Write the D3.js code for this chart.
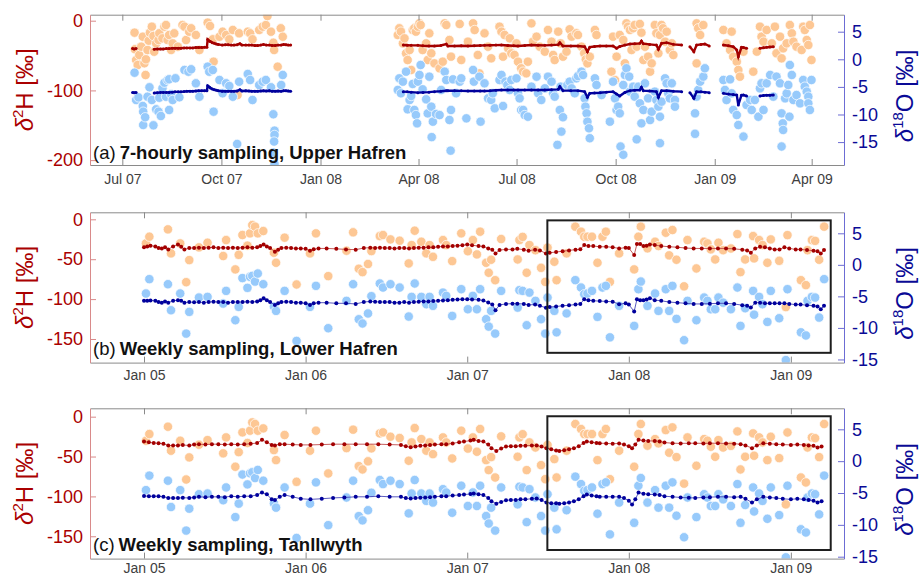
<!DOCTYPE html>
<html>
<head>
<meta charset="utf-8">
<script src="https://cdn.jsdelivr.net/npm/d3@7"></script>
<style>
  body { margin: 0; background: #fff; }
  svg { display: block; font-family: "Liberation Sans", Arial, Helvetica, sans-serif; }
</style>
</head>
<body>
<svg id="chart" width="919" height="577"></svg>
<script>
// ---- data (decimal years, per mil) ----
const upperTicks = ["2007-07-01","2007-10-01","2008-01-01","2008-04-01","2008-07-01","2008-10-01","2009-01-01","2009-04-01"];
const weeklyTicks = ["2005-01-01","2006-01-01","2007-01-01","2008-01-01","2009-01-01"];
const hTicksUpper = [0, -100, -200];
const hTicksWeekly = [0, -50, -100, -150];
const oTicks = [5, 0, -5, -10, -15];

// (a) rainfall d2H, 7-hourly
const upperRainH = [
  [2007.527,-17.2],[2007.528,-41],[2007.531,-56.4],[2007.535,-63.6],[2007.539,-49.2],[2007.544,-37.3],[2007.548,-23],
  [2007.552,-61.1],[2007.555,-77.9],[2007.556,-55.4],[2007.56,-42],[2007.563,-28.7],[2007.566,-17.2],[2007.571,-8.6],
  [2007.575,-22],[2007.577,-44.5],[2007.582,-32.5],[2007.588,-27.7],[2007.59,-18.1],[2007.598,-25.3],[2007.603,-8.6],
  [2007.607,-6.2],[2007.611,-27.7],[2007.615,-20.5],[2007.62,-42],[2007.624,-32.5],[2007.628,-18.1],[2007.637,-37.3],
  [2007.649,-6.2],[2007.654,-8.6],[2007.658,-27.7],[2007.666,-15.8],[2007.671,-10.9],[2007.683,-20.5],[2007.692,-42],
  [2007.713,-2.8],[2007.719,-7.6],[2007.726,-26.7],[2007.728,-58.8],[2007.743,-23],[2007.751,-15.8],[2007.76,-20.5],
  [2007.768,-26.7],[2007.777,-13.3],[2007.789,-106.6],[2007.793,-18.1],[2007.815,-15.8],[2007.821,-18.1],[2007.827,-26.7],
  [2007.844,-13.3],[2007.853,-8.6],[2007.861,-6.2],[2007.865,6.7],[2007.874,-15.8],[2007.88,-31.6],[2007.882,-42],
  [2007.891,-66],[2007.899,-10.9],[2007.904,-23],
  [2008.196,-20.5],[2008.2,-10.9],[2008.204,-15.7],[2008.209,-32.5],[2008.213,-25.3],[2008.217,-46.8],[2008.221,-56.4],
  [2008.226,-42],[2008.23,-70.7],[2008.234,-13.3],[2008.238,-10.9],[2008.242,-15.7],[2008.247,-8.6],[2008.251,-3.8],
  [2008.254,-6.2],[2008.259,-42],[2008.268,-32.5],[2008.272,-56.4],[2008.276,-18.1],[2008.281,-46.8],[2008.289,-61.2],
  [2008.302,-68.3],[2008.31,-58.8],[2008.315,-3.8],[2008.319,-6.2],[2008.327,-27.7],[2008.331,-51.6],[2008.353,-4.7],
  [2008.357,-56.4],[2008.374,-30.1],[2008.387,-3.8],[2008.391,-13.3],[2008.399,-49.2],[2008.403,-75.5],[2008.416,-18.1],
  [2008.425,-37.3],[2008.433,-54],[2008.454,-8.6],[2008.459,-15.7],[2008.463,-51.6],[2008.467,-20.5],[2008.476,-39.7],
  [2008.48,-25.3],[2008.484,-46.8],[2008.492,-49.2],[2008.497,-32.5],[2008.501,-58.8],[2008.509,-68.3],[2008.514,-73.1],
  [2008.522,-75.5],[2008.526,-58.8],[2008.535,-3.8],[2008.539,-30.1],[2008.548,-22.9],[2008.556,-37.3],[2008.569,-44.4],
  [2008.577,-13.3],[2008.586,-30.1],[2008.59,-49.2],[2008.594,-56.4],[2008.603,-15.7],[2008.609,-32.5],[2008.615,-51.6],
  [2008.624,-44.4],[2008.632,-12.4],[2008.637,-22.9],[2008.649,-18.1],[2008.653,-20.5],[2008.662,-37.3],[2008.669,-46.8],
  [2008.673,-55.4],[2008.677,-61.2],[2008.683,-51.6],[2008.696,-13.3],[2008.7,-20.5],
  [2008.738,-73.1],[2008.742,-22.9],[2008.747,-85.1],[2008.751,-51.6],[2008.759,-20.5],[2008.768,-27.7],[2008.772,-61.2],
  [2008.776,-3.8],[2008.78,-8.6],[2008.785,-13.3],[2008.789,-42],[2008.793,-10.9],[2008.797,-6.2],[2008.802,-37.3],
  [2008.81,-4.7],[2008.814,-17.2],[2008.819,-56.4],[2008.823,-37.3],[2008.831,-51.6],[2008.836,-73.1],[2008.84,-61.2],
  [2008.848,-6.2],[2008.852,-18.1],[2008.857,-46.8],[2008.861,-20.5],[2008.865,-6.2],[2008.869,-10.9],[2008.874,-30.1],
  [2008.878,-15.7],[2008.886,-42],[2008.891,-32.5],[2008.895,-49.2],[2008.954,-3.8],[2008.958,-10.9],[2008.963,-20.5],
  [2008.971,-6.2],[2008.954,-61.2],[2009.022,-13.3],[2009.03,-32.5],[2009.039,-42],[2009.043,-15.7],[2009.047,-51.6],
  [2009.056,-58.8],[2009.06,-70.7],[2009.064,-80.3],[2009.073,-44.4],[2009.098,-73.1],[2009.107,-44.4],[2009.115,-8.6],
  [2009.119,-22.9],[2009.124,-30.1],[2009.132,-13.3],[2009.145,-32.5],[2009.153,-8.6],[2009.157,-46.8],[2009.166,-22.9],
  [2009.17,-54],[2009.174,-39.7],[2009.183,-32.5],[2009.191,-6.2],[2009.196,-18.1],[2009.2,-30.1],[2009.208,-37.3],
  [2009.221,-42],[2009.225,-8.6],[2009.229,-13.3],[2009.234,-27.7],[2009.238,-34.9],[2009.242,-6.2],[2009.246,-56.4]
];

// (a) rainfall d18O, 7-hourly
const upperRainO = [
  [2007.527,-2.43],[2007.531,-7.37],[2007.537,-6.9],[2007.548,-8.46],[2007.549,-9.49],[2007.549,-11.9],[2007.554,-10.5],
  [2007.56,-6.78],[2007.565,-5.07],[2007.571,-7.37],[2007.575,-11.96],[2007.582,-9.06],[2007.588,-9.49],[2007.59,-6.96],
  [2007.594,-10.27],[2007.598,-5.25],[2007.603,-4.24],[2007.607,-6.78],[2007.611,-3.75],[2007.615,-3.62],[2007.615,-9.18],
  [2007.62,-6.34],[2007.624,-7.37],[2007.631,-3.44],[2007.641,-6.88],[2007.654,-1.94],[2007.664,-2.25],[2007.671,-1.81],
  [2007.683,-4.35],[2007.692,-6.78],[2007.713,-1.34],[2007.717,-2.25],[2007.726,-1.94],[2007.728,-9.49],[2007.743,-3.75],
  [2007.751,-6.16],[2007.76,-4.35],[2007.768,-4.84],[2007.777,-6.78],[2007.788,-15.34],[2007.793,-4.06],[2007.815,-2.66],
  [2007.821,-3.75],[2007.827,-7.37],[2007.844,-4.66],[2007.853,-4.06],[2007.861,-3.75],[2007.874,-5.07],[2007.88,-9.96],
  [2007.883,-12.93],[2007.883,-13.7],[2007.882,-14.9],[2007.88,-16.9],[2007.883,-19.0],[2007.9,-4.66],[2007.904,-2.84],
  [2008.196,-5.56],[2008.2,-3.45],[2008.204,-6.16],[2008.209,-4.05],[2008.217,-2.24],[2008.221,-9.06],[2008.226,-7.37],
  [2008.23,-6.65],[2008.234,-4.47],[2008.238,-9.18],[2008.242,-10.1],[2008.245,-11.6],[2008.247,-4.05],[2008.251,-2.84],
  [2008.254,-1.03],[2008.259,-5.44],[2008.268,-7.25],[2008.272,-9.8],[2008.276,-3.15],[2008.281,-8.58],[2008.282,-14.1],
  [2008.285,-11.3],[2008.293,-9.9],[2008.302,-10.1],[2008.306,-5.56],[2008.315,-2.24],[2008.319,-3.75],[2008.327,-11.0],
  [2008.33,-16.55],[2008.331,-9.18],[2008.336,-3.63],[2008.344,-6.16],[2008.353,-4.05],[2008.357,-3.45],[2008.37,-10.7],
  [2008.387,-1.93],[2008.389,-4.05],[2008.403,-3.15],[2008.406,-11.3],[2008.416,-4.35],[2008.425,-7.07],[2008.433,-7.37],
  [2008.437,-6.16],[2008.442,-8.88],[2008.454,-3.75],[2008.459,-2.84],[2008.463,-8.46],[2008.469,-4.05],[2008.474,-4.65],
  [2008.48,-5.56],[2008.484,-3.75],[2008.497,-3.45],[2008.501,-6.16],[2008.505,-7.07],[2008.509,-9.18],[2008.514,-9.18],
  [2008.518,-10.1],[2008.526,-10.4],[2008.535,-4.96],[2008.548,-3.15],[2008.552,-6.16],[2008.56,-7.37],[2008.569,-5.26],
  [2008.577,-3.15],[2008.586,-4.05],[2008.59,-6.16],[2008.594,-6.77],[2008.601,-15.5],[2008.607,-9.18],[2008.609,-4.96],
  [2008.611,-13.1],[2008.615,-10.5],[2008.626,-4.65],[2008.632,-4.05],[2008.637,-5.26],[2008.645,-6.16],[2008.649,-3.45],
  [2008.653,-3.03],[2008.662,-2.24],[2008.666,-2.84],[2008.67,-7.07],[2008.672,-8.58],[2008.675,-9.79],[2008.677,-11.3],
  [2008.681,-12.5],[2008.683,-14.3],[2008.696,-3.45],[2008.7,-4.65],
  [2008.713,-6.47],[2008.734,-11.3],[2008.742,-4.05],[2008.747,-7.07],[2008.751,-9.18],[2008.755,-8.58],[2008.759,-9.79],
  [2008.761,-15.8],[2008.768,-17.3],[2008.768,-4.65],[2008.772,-2.84],[2008.776,-1.63],[2008.783,-3.14],[2008.785,-5.86],
  [2008.793,-4.96],[2008.797,-6.77],[2008.802,-14.5],[2008.806,-4.96],[2008.81,-7.98],[2008.814,-11.6],[2008.819,-9.18],
  [2008.823,-4.35],[2008.831,-7.07],[2008.836,-11.0],[2008.84,-9.49],[2008.848,-5.86],[2008.852,-7.37],[2008.857,-8.58],
  [2008.861,-10.4],[2008.861,-15.2],[2008.865,-7.68],[2008.874,-3.45],[2008.878,-4.35],[2008.882,-6.17],[2008.886,-7.07],
  [2008.891,-4.35],[2008.899,-7.37],[2008.899,-8.58],[2008.95,-9.79],[2008.95,-13.5],[2008.954,-6.77],[2008.958,-5.56],
  [2008.963,-4.05],[2008.971,-3.14],[2008.975,-1.63],[2009.022,-3.75],[2009.026,-5.56],[2009.03,-7.37],[2009.039,-3.63],
  [2009.043,-6.17],[2009.047,-9.18],[2009.056,-10.1],[2009.06,-11.9],[2009.073,-14.0],[2009.081,-8.28],[2009.09,-7.37],
  [2009.094,-9.18],[2009.102,-7.37],[2009.111,-10.4],[2009.115,-5.26],[2009.119,-4.35],[2009.124,-9.18],[2009.132,-4.35],
  [2009.141,-2.84],[2009.149,-6.77],[2009.157,-3.14],[2009.166,-4.35],[2009.17,-9.79],[2009.17,-15.8],[2009.173,-11.6],
  [2009.174,-12.8],[2009.179,-7.07],[2009.183,-6.17],[2009.187,-4.65],[2009.19,-10.4],[2009.191,-1.03],[2009.196,-2.84],
  [2009.2,-7.37],[2009.208,-6.47],[2009.217,-7.98],[2009.225,-3.75],[2009.229,-4.96],[2009.234,-5.86],[2009.238,-6.77],
  [2009.238,-7.98],[2009.242,-9.18],[2009.246,-3.75]
];

// (a) stream water, 7-hourly: [year, d2H, d18O]; null = gap in record
const upperStream = [
  [2007.522,-40,-6.0],[2007.526,-40.5,-6.05],[2007.531,-40,-6.0], null,
  [2007.577,-41,-6.1],[2007.585,-40.5,-6.05],[2007.593,-40.5,-6.0],[2007.6,-40.5,-6.0],[2007.608,-40,-6.0],
  [2007.615,-40,-6.0],[2007.623,-39.5,-5.95],[2007.63,-39.5,-5.9],[2007.638,-39.5,-5.9],[2007.645,-39.5,-5.9],
  [2007.653,-39,-5.85],[2007.66,-39,-5.8],[2007.668,-39,-5.8],[2007.675,-39,-5.8],[2007.683,-38.5,-5.75],
  [2007.69,-38.5,-5.7],[2007.698,-38.5,-5.7],[2007.705,-38.2,-5.7],[2007.711,-38,-5.7],[2007.713,-27,-4.8],
  [2007.717,-29,-5.0],[2007.72,-30,-5.2],[2007.725,-31.5,-5.4],[2007.73,-32.5,-5.5],[2007.735,-33.5,-5.6],
  [2007.74,-34,-5.7],[2007.75,-35,-5.8],[2007.758,-34.5,-5.8],[2007.765,-34.5,-5.8],[2007.773,-35,-5.8],
  [2007.78,-35,-5.8],[2007.788,-34.5,-5.75],[2007.795,-33,-5.5],[2007.8,-35,-5.75],[2007.81,-35,-5.7],
  [2007.818,-35,-5.75],[2007.825,-35,-5.8],[2007.833,-35.5,-5.8],[2007.84,-35.5,-5.8],[2007.848,-35,-5.75],
  [2007.855,-34,-5.7],[2007.862,-35,-5.75],[2007.87,-35,-5.7],[2007.877,-35.5,-5.8],[2007.885,-35.5,-5.8],
  [2007.892,-35,-5.75],[2007.9,-35,-5.8],[2007.906,-34,-5.7],[2007.912,-34.5,-5.7],[2007.918,-35,-5.75],
  [2007.924,-35,-5.8], null,
  [2008.21,-34.9,-5.86],[2008.22,-35.2,-5.9],[2008.23,-35.4,-5.95],[2008.247,-35.4,-6.04],[2008.26,-36,-6.0],
  [2008.275,-36.3,-5.95],[2008.289,-36.3,-5.86],[2008.305,-35.5,-5.8],[2008.319,-33.5,-5.7],[2008.323,-36.3,-5.68],
  [2008.34,-36.3,-5.7],[2008.357,-36,-5.72],[2008.374,-36.3,-5.74],[2008.39,-36,-5.74],[2008.405,-35.6,-5.74],
  [2008.416,-35.4,-5.74],[2008.43,-35.2,-5.7],[2008.445,-35,-5.62],[2008.459,-34.9,-5.56],[2008.475,-35.5,-5.56],
  [2008.49,-36,-5.56],[2008.501,-36.3,-5.56],[2008.518,-35.5,-5.56],[2008.535,-34.9,-5.56],[2008.552,-35.2,-5.56],
  [2008.569,-35.4,-5.56],[2008.586,-35,-5.5],[2008.603,-34.4,-5.44],[2008.607,-31.5,-4.95],[2008.615,-36.3,-5.68],
  [2008.635,-36.3,-5.68],[2008.653,-36.3,-5.68],[2008.67,-37.3,-5.86],[2008.677,-44.4,-6.89],[2008.683,-38,-6.17],
  [2008.695,-37,-6.1],[2008.709,-36.3,-6.05],[2008.725,-36.3,-5.95],[2008.742,-36.3,-5.86],[2008.751,-39.7,-6.3],
  [2008.759,-37,-6.65],[2008.772,-35,-6.0],[2008.785,-33.4,-5.68],[2008.797,-33,-5.6],[2008.81,-32.5,-5.56],
  [2008.814,-29.1,-5.07],[2008.819,-33,-5.68],[2008.835,-34,-5.75],[2008.852,-34.9,-5.86],[2008.857,-41.1,-6.89],
  [2008.865,-32.5,-5.7],[2008.878,-31.5,-5.68],[2008.895,-33.9,-5.8],[2008.916,-34.9,-5.86], null,
  [2008.937,-37.3,-6.04],[2008.947,-44.4,-7.07],[2008.954,-34.9,-5.86],[2008.965,-34,-5.9],[2008.975,-33.4,-5.95],
  [2008.986,-36.3,-6.04], null,
  [2009.022,-34.9,-6.17],[2009.035,-36,-6.3],[2009.047,-37.3,-6.4],[2009.056,-42,-6.47],[2009.06,-51.6,-8.28],
  [2009.068,-38.2,-6.5],[2009.073,-38.5,-6.47],[2009.081,-39.7,-6.65], null,
  [2009.115,-39.7,-6.65],[2009.124,-38.8,-6.55],[2009.132,-38.2,-6.5],[2009.14,-37.8,-6.5],[2009.149,-37.3,-6.47]
];

// (b), (c) weekly rainfall: [year, d18O, d2H]
const weeklyRain = [
  [2005.012,-4.55,-30.2],[2005.033,-2.27,-21.8],[2005.148,-3.07,-12.6],[2005.167,-7.2,-42.7],[2005.224,-4.55,-30.2],
  [2005.261,-10.9,-78.8],[2005.28,-7.46,-51.1],[2005.34,-5.19,-35.2],[2005.393,-5.08,-29.4],[2005.49,-6.14,-46],
  [2005.508,-4.13,-26],[2005.565,-8.78,-62.8],[2005.586,-6.67,-44.5],[2005.609,-2.1,-19.7],[2005.64,-3.65,-33],
  [2005.656,-1.9,-17.6],[2005.67,-1.75,-7.2],[2005.687,-2.65,-9.2],[2005.704,-1.38,-17.6],[2005.738,-3.07,-14.7],
  [2005.804,-6.62,-41.9],[2005.817,-7.3,-54.5],[2005.87,-4.13,-23],[2005.944,-12.06,-81.7],[2006.027,-6.67,-42.7],
  [2006.064,-3.33,-17.6],[2006.14,-10.05,-71.2],[2006.253,-5.71,-39.4],[2006.294,-3.07,-16.3],[2006.329,-8.63,-62],
  [2006.352,-9.3,-66.2],[2006.386,-7.71,-56],[2006.407,-4.97,-39.8],[2006.459,-2.96,-21],[2006.479,-3.6,-19.7],
  [2006.525,-3.07,-25.2],[2006.582,-3.6,-26.8],[2006.638,-8.2,-55.3],[2006.656,-5.08,-32.3],[2006.675,-2.96,-14.3],
  [2006.716,-5.08,-28.1],[2006.747,-6.24,-42.7],[2006.767,-5.08,-32.3],[2006.788,-6.5,-47],
  [2006.85,-4.4,-26],[2006.87,-4.92,-32.3],[2006.907,-8.1,-52.4],[2006.963,-3.86,-17.6],[2007.004,-7.04,-40],
  [2007.035,-4.92,-26],[2007.06,-7.04,-44],[2007.08,-3.86,-15.5],[2007.117,-8.62,-54.5],[2007.133,-9.79,-67],
  [2007.148,-7.3,-50.7],[2007.173,-10.9,-76.3],[2007.21,-4.13,-24.7],[2007.312,-6.78,-50.3],[2007.323,-4.02,-26],
  [2007.343,-4.13,-22],[2007.368,-9.58,-67],[2007.385,-4.4,-32.3],[2007.422,-5.71,-38.7],[2007.457,-8.62,-60.8],
  [2007.483,-10.9,-78.4],[2007.497,-5.19,-35.5],[2007.539,-7.3,-53.2],[2007.553,-10.7,-76.3],[2007.615,-7.7,-42.7],
  [2007.669,-2.43,-9.2],[2007.704,-3.6,-15.5],[2007.724,-4.66,-21.8],[2007.744,-4.55,-21.8],[2007.772,-4.13,-21.8],
  [2007.806,-8.25,-54.5],[2007.837,-3.6,-21.8],[2007.858,-3.33,-15.5],[2007.883,-11.5,-78.4],[2007.94,-6.5,-42.7],
  [2008.033,-9.68,-62.8],[2008.059,-3.86,-21.8],[2008.074,-2.65,-9.2],[2008.115,-6.5,-36.4],[2008.162,-4.55,-28.1],
  [2008.183,-7.3,-33.5],[2008.228,-3.86,-16.8],[2008.249,-7.3,-45.2],[2008.269,-3.33,-13.4],[2008.294,-8.57,-50.7],
  [2008.341,-11.95,-84],[2008.362,-5.71,-26],[2008.417,-8.78,-61.6],[2008.465,-5.19,-28.1],[2008.485,-5.71,-30.2],
  [2008.506,-7.04,-37.7],[2008.533,-7.04,-50.3],[2008.553,-5.19,-29.4],[2008.582,-6,-38.7],[2008.63,-7.04,-36.6],
  [2008.67,-3.6,-18.5],[2008.689,-9.68,-66.2],[2008.718,-6.88,-50.3],[2008.767,-4.13,-21],[2008.773,-7.9,-49],
  [2008.804,-5.08,-26],[2008.825,-6.24,-32.3],[2008.855,-9.05,-54.5],[2008.876,-4.13,-25.2],[2008.928,-8.47,-52],
  [2008.969,-15.1,-110],[2008.979,-3.86,-19.8],[2009.062,-10.7,-76.3],[2009.093,-11.2,-82.5],[2009.103,-5.71,-38.7],
  [2009.13,-5.08,-26],[2009.15,-5.19,-27],[2009.175,-8.36,-50.7],[2009.206,-2.27,-9.2]
];

// (b) Lower Hafren stream, weekly: [year, d2H, d18O]
const lowerStream = [
  [2005.0,-35,-5.7],[2005.02,-34,-5.7],[2005.04,-33,-5.65],[2005.07,-34,-5.7],[2005.09,-36,-5.9],[2005.11,-36.5,-6.0],
  [2005.13,-35,-5.8],[2005.15,-37.7,-6.0],[2005.18,-34,-5.7],[2005.21,-31.5,-5.6],[2005.23,-34.4,-5.7],[2005.25,-37.7,-6.0],
  [2005.28,-36,-5.9],[2005.31,-36,-5.95],[2005.34,-35.5,-5.9],[2005.37,-36,-6.0],[2005.4,-35.5,-5.9],[2005.43,-35,-5.85],
  [2005.46,-36,-5.9],[2005.49,-35.5,-5.9],[2005.52,-36,-6.0],[2005.55,-35.5,-5.9],[2005.58,-36,-5.9],[2005.61,-35.5,-5.9],
  [2005.64,-35,-5.85],[2005.67,-35.5,-5.9],[2005.7,-35,-5.8],[2005.72,-33.5,-5.6],[2005.74,-31.5,-5.3],[2005.76,-34,-5.6],
  [2005.78,-36,-5.9],[2005.81,-40.6,-6.35],[2005.83,-38,-6.1],[2005.85,-36,-5.9],[2005.88,-35.5,-5.85],[2005.91,-36,-5.9],
  [2005.94,-36.5,-6.0],[2005.97,-36.5,-6.0],[2006.0,-37,-6.1],[2006.027,-39.4,-6.35],[2006.05,-37.5,-6.1],[2006.08,-36.5,-6.0],
  [2006.13,-36.5,-6.0],[2006.19,-37,-6.1],[2006.25,-37.7,-6.1],[2006.31,-38,-6.2],[2006.36,-36,-5.9],[2006.4,-35.5,-5.8],
  [2006.43,-36,-5.85],[2006.46,-35.5,-5.9],[2006.49,-36,-5.9],[2006.52,-36,-5.9],[2006.55,-36.5,-6.0],[2006.58,-36,-6.0],
  [2006.61,-36,-5.9],[2006.64,-36.5,-6.0],[2006.67,-36,-5.9],[2006.7,-35.5,-5.85],[2006.73,-35.5,-5.8],[2006.76,-35,-5.8],
  [2006.79,-35,-5.75],[2006.82,-34.5,-5.7],[2006.85,-34,-5.65],[2006.88,-34,-5.6],[2006.91,-33.5,-5.55],[2006.94,-33,-5.5],
  [2006.97,-32.5,-5.45],[2007.0,-31.5,-5.45],[2007.03,-32.5,-5.5],[2007.07,-33.5,-5.55],[2007.1,-34,-5.65],[2007.13,-36.5,-5.98],
  [2007.155,-38,-6.3],[2007.175,-42.8,-7.2],[2007.2,-38.6,-6.35],[2007.24,-37.7,-6.2],[2007.28,-37.7,-6.15],[2007.31,-37,-6.15],
  [2007.35,-38,-6.2],[2007.38,-39.4,-6.35],[2007.42,-38,-6.3],[2007.45,-39,-6.5],[2007.487,-42.8,-6.8],[2007.51,-41.9,-6.7],
  [2007.55,-41,-6.6],[2007.59,-40,-6.5],[2007.63,-39,-6.4],[2007.67,-38,-6.3],[2007.7,-37.5,-6.2],[2007.724,-32.3,-5.45],
  [2007.75,-33.5,-5.6],[2007.78,-33.5,-5.7],[2007.82,-34.4,-5.75],[2007.86,-34.4,-5.8],[2007.9,-35,-5.85],[2007.94,-36.5,-6.24],
  [2007.98,-35.5,-6.1],[2008.0,-36,-6.3],[2008.033,-44.8,-7.4],[2008.05,-31,-5.45],[2008.07,-31,-5.6],[2008.09,-33.5,-5.6],
  [2008.11,-33,-5.5],[2008.13,-31.5,-5.29],[2008.16,-32.3,-5.6],[2008.2,-33.5,-5.7],[2008.25,-34.4,-5.9],[2008.3,-35,-6.0],
  [2008.35,-36,-6.1],[2008.4,-36.5,-6.2],[2008.45,-36.5,-6.2],[2008.5,-36.5,-6.15],[2008.55,-36.5,-6.1],[2008.6,-36.5,-6.1],
  [2008.65,-37,-6.2],[2008.7,-38,-6.4],[2008.73,-39,-6.5],[2008.753,-41.9,-6.77],[2008.78,-36.5,-6.0],[2008.81,-34.4,-6.0],
  [2008.84,-35,-6.1],[2008.87,-36.5,-6.1],[2008.9,-37.7,-6.1],[2008.93,-37.7,-6.1],[2008.96,-35,-6.1],[2008.99,-36.5,-6.2],
  [2009.03,-37.7,-6.3],[2009.06,-37.7,-6.3],[2009.1,-38.5,-6.4],[2009.14,-39.4,-6.5],[2009.165,-40,-6.6],[2009.185,-42.8,-7.04],
  [2009.205,-38.6,-6.5]
];

// (c) Tanllwyth stream, weekly: [year, d2H, d18O]
const tanllwythStream = [
  [2005.0,-31.2,-5.46],[2005.03,-32,-5.5],[2005.06,-33,-5.5],[2005.09,-33.3,-5.5],[2005.12,-34,-5.6],[2005.15,-36,-5.77],
  [2005.18,-36.2,-5.8],[2005.21,-36,-5.8],[2005.24,-35.5,-5.75],[2005.28,-36.2,-5.77],[2005.31,-35,-5.7],[2005.34,-34.5,-5.6],
  [2005.38,-35,-5.65],[2005.42,-34.5,-5.6],[2005.46,-34.5,-5.6],[2005.5,-35,-5.65],[2005.54,-34.5,-5.5],[2005.58,-35,-5.6],
  [2005.62,-34.5,-5.5],[2005.66,-34,-5.5],[2005.7,-33,-5.3],[2005.73,-29.1,-4.93],[2005.76,-32,-5.2],[2005.79,-35.4,-6.0],
  [2005.81,-36,-6.1],[2005.84,-34.5,-5.6],[2005.87,-34.5,-5.3],[2005.92,-35,-5.6],[2005.97,-35.4,-5.9],[2006.03,-35.4,-6.0],
  [2006.1,-35,-5.9],[2006.17,-34.5,-5.77],[2006.24,-34.5,-5.7],[2006.31,-34.5,-5.6],[2006.38,-34.5,-5.6],[2006.45,-34.5,-5.5],
  [2006.52,-35,-5.6],[2006.59,-35.4,-5.6],[2006.62,-37,-5.8],[2006.65,-38.3,-5.88],[2006.68,-37.5,-5.8],[2006.71,-36.6,-5.75],
  [2006.74,-36,-5.7],[2006.77,-35.5,-5.65],[2006.8,-35,-5.6],[2006.84,-34.5,-5.5],[2006.87,-34.5,-5.5],[2006.91,-33.5,-5.4],
  [2006.95,-32,-5.3],[2006.98,-31.2,-5.25],[2007.02,-30,-5.15],[2007.04,-29.1,-5.09],[2007.07,-30.5,-5.2],[2007.1,-31.2,-5.3],
  [2007.13,-35,-5.8],[2007.15,-39.5,-6.3],[2007.18,-42.9,-6.67],[2007.21,-40,-6.4],[2007.24,-37.5,-6.14],[2007.27,-37,-6.1],
  [2007.3,-37,-6.1],[2007.33,-36.5,-6.0],[2007.36,-36.5,-6.0],[2007.4,-36,-5.9],[2007.43,-36.2,-5.88],[2007.46,-37.5,-6.1],
  [2007.49,-39.5,-6.5],[2007.52,-41,-6.6],[2007.55,-42.5,-6.6],[2007.57,-42.9,-6.67],[2007.6,-42,-6.6],[2007.63,-41,-6.5],
  [2007.66,-39.5,-6.3],[2007.69,-37,-6.0],[2007.72,-33,-5.5],[2007.74,-31.2,-5.25],[2007.77,-32,-5.4],[2007.8,-33,-5.5],
  [2007.82,-33.3,-5.6],[2007.86,-33.5,-5.6],[2007.9,-34,-5.6],[2007.94,-33.5,-5.6],[2007.97,-35,-5.8],[2008.0,-37,-6.2],
  [2008.02,-39.5,-6.82],[2008.04,-35,-6.0],[2008.06,-29.1,-4.93],[2008.09,-30,-5.1],[2008.12,-30.5,-5.2],[2008.16,-30.4,-5.25],
  [2008.19,-31,-5.3],[2008.22,-32.5,-5.5],[2008.27,-33.3,-5.6],[2008.32,-33.5,-5.7],[2008.37,-33.3,-5.75],[2008.41,-33.3,-5.77],
  [2008.46,-33.5,-5.7],[2008.5,-33.3,-5.65],[2008.55,-33.3,-5.6],[2008.6,-33.5,-5.6],[2008.65,-34,-5.65],[2008.69,-34.5,-5.6],
  [2008.72,-36,-5.9],[2008.76,-39.5,-6.5],[2008.79,-36,-6.0],[2008.83,-33.3,-5.6],[2008.87,-34,-5.7],[2008.91,-34.5,-5.8],
  [2008.95,-35,-5.9],[2009.0,-35.4,-6.0],[2009.04,-35,-5.9],[2009.08,-35.5,-6.0],[2009.11,-36.2,-6.1],[2009.14,-36.5,-6.2],
  [2009.165,-38.7,-6.5],[2009.19,-37.5,-6.3]
];

// ---- layout / style ----
const svg = d3.select("#chart");
const L = 90, R = 844, PH = 150.3;
const C = {
  hRain: "#fdc794", oRain: "#97cafb",
  hStream: "#a30000", oStream: "#00009c",
  hThin: "#c04a4a", oThin: "#4646b8",
  hText: "#aa0000", oText: "#0a0a96",
  hAxis: "#d98a8a", oAxis: "#6c6cd4",
  box: "#8a8a8a", tick: "#404040"
};
const parseDay = d3.utcParse("%Y-%m-%d");
const toDate = y => {
  const yr = Math.floor(y), a = Date.UTC(yr, 0, 1), b = Date.UTC(yr + 1, 0, 1);
  return new Date(a + (y - yr) * (b - a));
};

const panels = [
  { key: "a", top: 14.7, xDomain: ["2007-06-01", "2009-05-01"], ticks: upperTicks,
    hDomain: [-207, 8.6], oDomain: [-19.15, 8.08], hTicks: hTicksUpper,
    rainH: upperRainH, rainO: upperRainO, stream: upperStream, dense: true,
    tag: "(a)", title: "7-hourly sampling, Upper Hafren", labelUp: 6, xPad: 9 },
  { key: "b", top: 212.3, xDomain: ["2004-09-01", "2009-05-01"], ticks: weeklyTicks,
    hDomain: [-179.6, 8.8], oDomain: [-15.5, 8.33], hTicks: hTicksWeekly,
    rainH: weeklyRain.map(d => [d[0], d[2]]), rainO: weeklyRain.map(d => [d[0], d[1]]),
    stream: lowerStream, dense: false, box: true,
    tag: "(b)", title: "Weekly sampling, Lower Hafren", labelUp: 8, xPad: 7 },
  { key: "c", top: 408.3, xDomain: ["2004-09-01", "2009-05-01"], ticks: weeklyTicks,
    hDomain: [-178, 10.5], oDomain: [-15.3, 8.3], hTicks: hTicksWeekly,
    rainH: weeklyRain.map(d => [d[0], d[2]]), rainO: weeklyRain.map(d => [d[0], d[1]]),
    stream: tanllwythStream, dense: false, box: true,
    tag: "(c)", title: "Weekly sampling, Tanllwyth", labelUp: 7.5, xPad: 4 }
];
const zoomBox = { from: "2007-07-01", to: "2009-04-01", oLow: -13.95, oHigh: 7.05 };

function styleAxis(sel, lineColor, textColor, size) {
  sel.attr("font-family", null).attr("font-size", size);
  sel.select(".domain").attr("stroke", lineColor);
  sel.selectAll(".tick line").attr("stroke", lineColor);
  sel.selectAll(".tick text").attr("fill", textColor);
}

function axisTitle(g, x, y, color, sup, rest) {
  const t = g.append("text").attr("transform", `translate(${x},${y}) rotate(-90)`)
    .attr("text-anchor", "middle").attr("fill", color).attr("font-size", 24);
  t.append("tspan").attr("font-style", "italic").text("δ");
  t.append("tspan").attr("font-size", 15).attr("dy", -10).text(sup);
  t.append("tspan").attr("dy", 10).text(rest);
}

function drawPanel(p) {
  const bottom = p.top + PH;
  const x = d3.scaleUtc().domain(p.xDomain.map(parseDay)).range([L, R]);
  const yH = d3.scaleLinear().domain(p.hDomain).range([bottom, p.top]);
  const yO = d3.scaleLinear().domain(p.oDomain).range([bottom, p.top]);
  const g = svg.append("g").attr("class", "panel-" + p.key);

  svg.append("clipPath").attr("id", "clip-" + p.key)
    .append("rect").attr("x", L).attr("y", p.top).attr("width", R - L).attr("height", PH);
  const plot = g.append("g").attr("clip-path", `url(#clip-${p.key})`);

  plot.append("g").selectAll("circle").data(p.rainH).join("circle")
    .attr("cx", d => x(toDate(d[0]))).attr("cy", d => yH(d[1])).attr("r", 4.7)
    .attr("fill", C.hRain).attr("stroke", "#fff").attr("stroke-width", 0.7);
  plot.append("g").selectAll("circle").data(p.rainO).join("circle")
    .attr("cx", d => x(toDate(d[0]))).attr("cy", d => yO(d[1])).attr("r", 4.7)
    .attr("fill", C.oRain).attr("stroke", "#fff").attr("stroke-width", 0.7);

  const pts = p.stream.filter(d => d);
  const lineH = d3.line().defined(d => d !== null).x(d => x(toDate(d[0]))).y(d => yH(d[1]));
  const lineO = d3.line().defined(d => d !== null).x(d => x(toDate(d[0]))).y(d => yO(d[2]));
  [[lineH, C.hStream, C.hThin, d => yH(d[1])], [lineO, C.oStream, C.oThin, d => yO(d[2])]]
    .forEach(([ln, col, thin, cy]) => {
      plot.append("path").attr("d", ln(p.stream)).attr("fill", "none")
        .attr("stroke", p.dense ? col : thin).attr("stroke-width", p.dense ? 2.4 : 0.9);
      plot.append("g").selectAll("circle").data(pts).join("circle")
        .attr("cx", d => x(toDate(d[0]))).attr("cy", cy)
        .attr("r", p.dense ? 1.5 : 2).attr("fill", col);
    });

  if (p.box) {
    g.append("rect")
      .attr("x", x(parseDay(zoomBox.from))).attr("y", yO(zoomBox.oHigh))
      .attr("width", x(parseDay(zoomBox.to)) - x(parseDay(zoomBox.from)))
      .attr("height", yO(zoomBox.oLow) - yO(zoomBox.oHigh))
      .attr("fill", "none").attr("stroke", "#1e1e1e").attr("stroke-width", 2);
  }

  const tickDates = p.ticks.map(parseDay);
  g.append("g").attr("transform", `translate(0,${p.top})`)
    .call(d3.axisTop(x).tickValues(tickDates).tickFormat("").tickSize(-6).tickSizeOuter(0))
    .call(s => styleAxis(s, C.box, C.tick, 14));
  g.append("g").attr("transform", `translate(0,${bottom})`)
    .call(d3.axisBottom(x).tickValues(tickDates).tickFormat(d3.utcFormat("%b %y"))
      .tickSize(-6).tickSizeOuter(0).tickPadding(p.xPad))
    .call(s => styleAxis(s, C.box, C.tick, 14));
  g.append("g").attr("transform", `translate(${L},0)`)
    .call(d3.axisLeft(yH).tickValues(p.hTicks).tickFormat(d => String(d))
      .tickSize(-6).tickSizeOuter(0).tickPadding(7))
    .call(s => styleAxis(s, C.hAxis, C.hText, 18));
  g.append("g").attr("transform", `translate(${R},0)`)
    .call(d3.axisRight(yO).tickValues(oTicks).tickFormat(d => String(d))
      .tickSize(-6).tickSizeOuter(0).tickPadding(8))
    .call(s => styleAxis(s, C.oAxis, C.oText, 18));

  const mid = p.top + PH / 2;
  axisTitle(g, 33, mid, C.hText, "2", "H [‰]");
  axisTitle(g, 913, mid + 6, C.oText, "18", "O [‰]");

  const lab = g.append("text").attr("x", 93).attr("y", bottom - p.labelUp)
    .attr("font-size", 18.5).attr("fill", "#111");
  lab.append("tspan").text(p.tag);
  lab.append("tspan").attr("dx", 4).attr("font-weight", "bold").text(p.title);
}

panels.forEach(drawPanel);
</script>
</body>
</html>
